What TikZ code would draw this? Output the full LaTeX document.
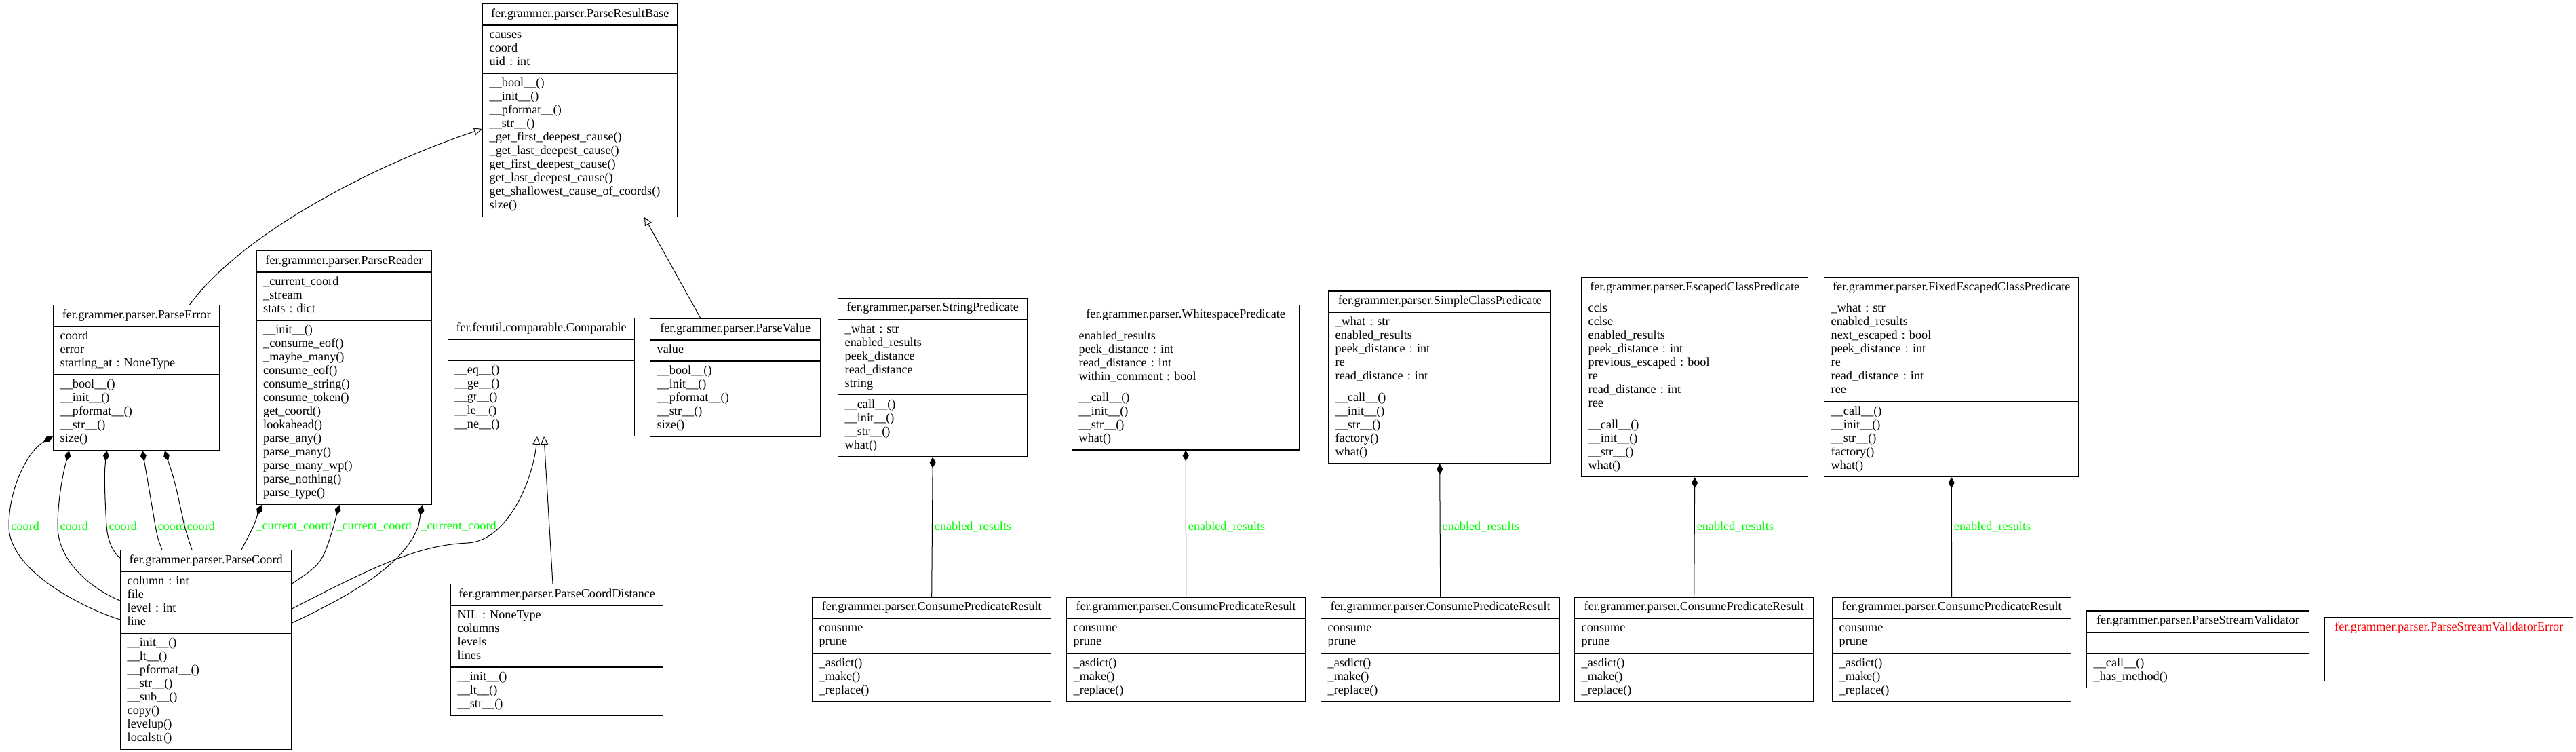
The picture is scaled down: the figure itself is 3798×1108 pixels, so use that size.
\documentclass[tikz,border=0pt]{standalone}
\usepackage{fontspec}
\setmainfont{Liberation Serif}
\usetikzlibrary{shapes.multipart,arrows.meta,calc}
\newcommand{\umlcls}[3]{\makebox[\linewidth]{\strut #1}\nodepart{two}\strut #2\strut\nodepart{three}\strut #3\strut}
\newcommand{\fgp}{fer.grammer.parser.}
\frenchspacing

\begin{document}
\begin{tikzpicture}[x=0.5pt,y=-0.5pt]
    \tikzstyle{cls}=[draw, line width=0.7pt, rectangle split, rectangle split parts=3, anchor=north west, inner xsep=5pt, inner ysep=2.45pt, align=left, font=\fontsize{9.1}{10}\selectfont]
    \tikzstyle{lbl}=[text=green, inner sep=1.5pt, anchor=west, font=\fontsize{9.1}{10}\selectfont]
    \tikzstyle{comp}=[line width=0.5pt, {Diamond[length=8pt,width=4.5pt]}-]
    \tikzstyle{inh}=[line width=0.5pt, -{Triangle[open,length=6pt,width=5.5pt]}]
    \useasboundingbox (0,0) rectangle (3798,1108);

    % base classes
    \node[cls, text width=133.5pt] (prb) at (711,5) {\umlcls{\fgp ParseResultBase}
        {causes\\coord\\uid : int}
        {\_\_bool\_\_()\\\_\_init\_\_()\\\_\_pformat\_\_()\\\_\_str\_\_()\\\_get\_first\_deepest\_cause()\\\_get\_last\_deepest\_cause()\\get\_first\_deepest\_cause()\\get\_last\_deepest\_cause()\\get\_shallowest\_cause\_of\_coords()\\size()}};
    \node[cls, text width=112.5pt] (perr) at (78,449) {\umlcls{\fgp ParseError}
        {coord\\error\\starting\_at : NoneType}
        {\_\_bool\_\_()\\\_\_init\_\_()\\\_\_pformat\_\_()\\\_\_str\_\_()\\size()}};
    \node[cls, text width=119.25pt] (prd) at (377.5,369) {\umlcls{\fgp ParseReader}
        {\_current\_coord\\\_stream\\stats : dict}
        {\_\_init\_\_()\\\_consume\_eof()\\\_maybe\_many()\\consume\_eof()\\consume\_string()\\consume\_token()\\get\_coord()\\lookahead()\\parse\_any()\\parse\_many()\\parse\_many\_wp()\\parse\_nothing()\\parse\_type()}};
    \node[cls, text width=127.5pt] (cmp) at (660,468) {\umlcls{fer.ferutil.comparable.Comparable}
        {}
        {\_\_eq\_\_()\\\_\_ge\_\_()\\\_\_gt\_\_()\\\_\_le\_\_()\\\_\_ne\_\_()}};
    \node[cls, text width=115.5pt] (pval) at (958,469) {\umlcls{\fgp ParseValue}
        {value}
        {\_\_bool\_\_()\\\_\_init\_\_()\\\_\_pformat\_\_()\\\_\_str\_\_()\\size()}};
    \node[cls, text width=116pt] (pco) at (177,810) {\umlcls{\fgp ParseCoord}
        {column : int\\file\\level : int\\line}
        {\_\_init\_\_()\\\_\_lt\_\_()\\\_\_pformat\_\_()\\\_\_str\_\_()\\\_\_sub\_\_()\\copy()\\levelup()\\localstr()}};
    \node[cls, text width=146.5pt] (pcd) at (664,860) {\umlcls{\fgp ParseCoordDistance}
        {NIL : NoneType\\columns\\levels\\lines}
        {\_\_init\_\_()\\\_\_lt\_\_()\\\_\_str\_\_()}};

    % predicates
    \node[cls, text width=129.5pt] (spred) at (1235,438.5) {\umlcls{\fgp StringPredicate}
        {\_what : str\\enabled\_results\\peek\_distance\\read\_distance\\string}
        {\_\_call\_\_()\\\_\_init\_\_()\\\_\_str\_\_()\\what()}};
    \node[cls, text width=157.5pt] (wpred) at (1580,448.5) {\umlcls{\fgp WhitespacePredicate}
        {enabled\_results\\peek\_distance : int\\read\_distance : int\\within\_comment : bool}
        {\_\_call\_\_()\\\_\_init\_\_()\\\_\_str\_\_()\\what()}};
    \node[cls, text width=154pt] (scpred) at (1958,428.3) {\umlcls{\fgp SimpleClassPredicate}
        {\_what : str\\enabled\_results\\peek\_distance : int\\re\\read\_distance : int}
        {\_\_call\_\_()\\\_\_init\_\_()\\\_\_str\_\_()\\factory()\\what()}};
    \node[cls, text width=157pt] (ecpred) at (2331,408.3) {\umlcls{\fgp EscapedClassPredicate}
        {ccls\\cclse\\enabled\_results\\peek\_distance : int\\previous\_escaped : bool\\re\\read\_distance : int\\ree}
        {\_\_call\_\_()\\\_\_init\_\_()\\\_\_str\_\_()\\what()}};
    \node[cls, text width=177.5pt] (fecpred) at (2689,408.3) {\umlcls{\fgp FixedEscapedClassPredicate}
        {\_what : str\\enabled\_results\\next\_escaped : bool\\peek\_distance : int\\re\\read\_distance : int\\ree}
        {\_\_call\_\_()\\\_\_init\_\_()\\\_\_str\_\_()\\factory()\\what()}};

    % results
    \foreach \i/\x in {1/1197,2/1572,3/1947,4/2321,5/2701}
        \node[cls, text width=166pt] (cpr\i) at (\x,879.3) {\umlcls{\fgp ConsumePredicateResult}
            {consume\\prune}
            {\_asdict()\\\_make()\\\_replace()}};
    \node[cls, text width=153.75pt] (psv) at (3076,899.3) {\umlcls{\fgp ParseStreamValidator}
        {}
        {\_\_call\_\_()\\\_has\_method()}};
    \node[cls, text width=173pt] (psve) at (3427,909.3) {\umlcls{\textcolor{red}{\fgp ParseStreamValidatorError}}{}{}};

    % inheritance
    \draw[inh] ($(perr.north west)+(201.5,0)$) .. controls (360,340) and (560,240) .. ($(prb.north west)+(0,185)$);
    \draw[inh] ($(pval.north west)+(75,0)$) -- ($(prb.south west)+(239,0)$);
    \draw[inh] ($(pco.north east)+(0,87)$) .. controls (560,830) and (620,803) .. (690,800) .. controls (750,796) and (786,705) .. ($(cmp.south west)+(132,0)$);
    \draw[inh] ($(pcd.north west)+(151,0)$) -- ($(cmp.south west)+(142,0)$);

    % coord
    \draw[comp] ($(perr.south west)+(0,-21)$) .. controls (40,665) and (13,720) .. (13,775) node[lbl] {coord} .. controls (13,840) and (120,895) .. ($(pco.north west)+(0,103)$);
    \draw[comp] ($(perr.south west)+(24,0)$) .. controls (92,700) and (85,740) .. (85,775) node[lbl] {coord} .. controls (85,830) and (140,870) .. ($(pco.north west)+(0,75)$);
    \draw[comp] ($(perr.south west)+(79.5,0)$) .. controls (153,700) and (155,740) .. (157,775) node[lbl] {coord} .. controls (159,800) and (168,815) .. ($(pco.north west)+(0,12)$);
    \draw[comp] ($(perr.south west)+(132,0)$) .. controls (218,710) .. (229,775) node[lbl] {coord} .. controls (233,795) .. ($(pco.north west)+(62,0)$);
    \draw[comp] ($(perr.south west)+(165,0)$) .. controls (258,710) .. (272,775) node[lbl] {coord} .. controls (278,795) .. ($(pco.north west)+(106,0)$);

    % _current_coord
    \draw[comp] ($(prd.south west)+(8,0)$) .. controls (381,755) .. (374,775) node[lbl] {\_current\_coord} .. controls (365,792) .. ($(pco.north west)+(179,0)$);
    \draw[comp] ($(prd.south west)+(123,0)$) .. controls (498,752) .. (492,775) node[lbl] {\_current\_coord} .. controls (475,830) .. ($(pco.north east)+(0,50)$);
    \draw[comp] ($(prd.south west)+(245,0)$) .. controls (621,752) .. (617,775) node[lbl] {\_current\_coord} .. controls (595,835) and (510,880) .. ($(pco.north east)+(0,108)$);

    % enabled_results
    \draw[comp] (spred.south) -- node[lbl, pos=0.5] {enabled\_results} (cpr1.north);
    \draw[comp] (wpred.south) -- node[lbl, pos=0.523] {enabled\_results} (cpr2.north);
    \draw[comp] (scpred.south) -- node[lbl, pos=0.475] {enabled\_results} (cpr3.north);
    \draw[comp] (ecpred.south) -- node[lbl, pos=0.416] {enabled\_results} (cpr4.north);
    \draw[comp] (fecpred.south) -- node[lbl, pos=0.416] {enabled\_results} (cpr5.north);
\end{tikzpicture}
\end{document}
